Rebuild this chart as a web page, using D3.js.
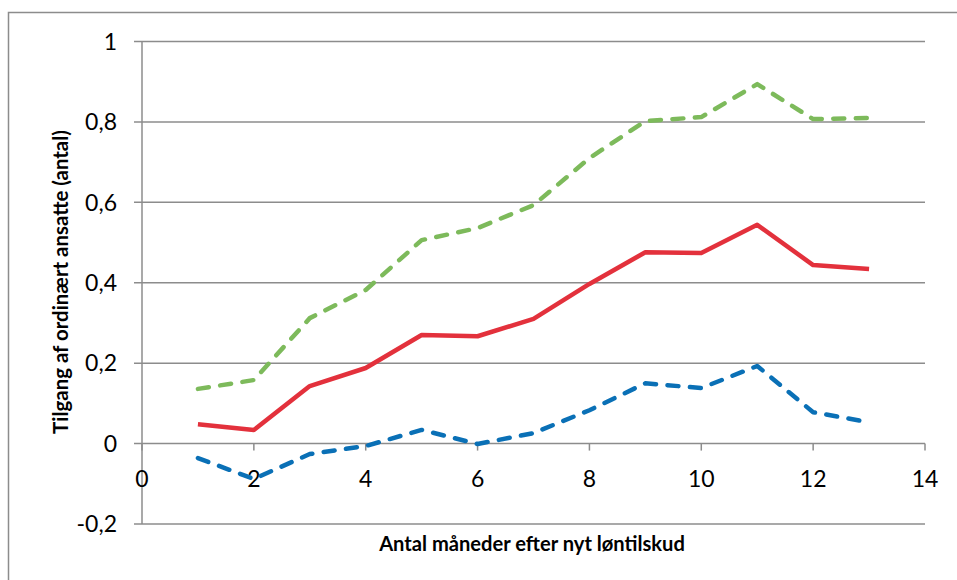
<!DOCTYPE html>
<html>
<head>
<meta charset="utf-8">
<script src="https://cdn.jsdelivr.net/npm/d3@7/dist/d3.min.js"></script>
<style>
  html, body { margin: 0; padding: 0; background: #fff; }
  svg { display: block; }
</style>
</head>
<body>
<svg id="chart" width="957" height="580"></svg>
<script>
// ---- data ----
const months = [1, 2, 3, 4, 5, 6, 7, 8, 9, 10, 11, 12, 13];
const estimate = [0.048, 0.034, 0.143, 0.188, 0.270, 0.267, 0.310, 0.397, 0.476, 0.474, 0.544, 0.444, 0.434];
const upper = [0.136, 0.158, 0.312, 0.382, 0.506, 0.536, 0.593, 0.710, 0.802, 0.812, 0.894, 0.807, 0.810];
const lower = [-0.036, -0.088, -0.026, -0.006, 0.034, -0.001, 0.026, 0.083, 0.150, 0.138, 0.193, 0.078, 0.053];
const xTicks = [0, 2, 4, 6, 8, 10, 12, 14];
const yTicks = [-0.2, 0, 0.2, 0.4, 0.6, 0.8, 1];
const yTickLabels = ["-0,2", "0", "0,2", "0,4", "0,6", "0,8", "1"];
const xTitle = "Antal måneder efter nyt løntilskud";
const yTitle = "Tilgang af ordinært ansatte (antal)";

// ---- layout ----
const svg = d3.select("#chart");
const font = "Lato, 'Open Sans', sans-serif";
const grey = "#8c8c8c";

const x = d3.scaleLinear().domain([0, 14]).range([142, 925]);
const y = d3.scaleLinear().domain([-0.2, 1]).range([524, 41.5]);

// outer border (only top and left visible)
svg.append("rect")
  .attr("x", 8.5).attr("y", 12.5)
  .attr("width", 1000).attr("height", 1000)
  .attr("fill", "none").attr("stroke", grey).attr("stroke-width", 1.5);

// horizontal gridlines with y ticks
svg.append("g").selectAll("line").data(yTicks).join("line")
  .attr("x1", 134).attr("x2", x(14))
  .attr("y1", d => y(d)).attr("y2", d => y(d))
  .attr("stroke", grey).attr("stroke-width", 1.5);

// y axis line
svg.append("line")
  .attr("x1", x(0)).attr("x2", x(0))
  .attr("y1", y(1)).attr("y2", y(-0.2))
  .attr("stroke", grey).attr("stroke-width", 1.5);

// x ticks on zero line
svg.append("g").selectAll("line").data(xTicks).join("line")
  .attr("x1", d => x(d)).attr("x2", d => x(d))
  .attr("y1", y(0)).attr("y2", y(0) + 7)
  .attr("stroke", grey).attr("stroke-width", 1.5);

// y tick labels
svg.append("g").selectAll("text").data(yTicks).join("text")
  .attr("x", 117).attr("y", d => y(d))
  .attr("dy", "0.36em")
  .attr("text-anchor", "end")
  .style("font-family", font).style("font-size", "23px").attr("fill", "#000")
  .text((d, i) => yTickLabels[i]);

// x tick labels
svg.append("g").selectAll("text").data(xTicks).join("text")
  .attr("x", d => x(d)).attr("y", 487)
  .attr("text-anchor", "middle")
  .style("font-family", font).style("font-size", "23px").attr("fill", "#000")
  .text(d => d);

// series lines
const line = d3.line().x((d, i) => x(months[i])).y(d => y(d));
function drawSeries(vals, color, dashed) {
  const p = svg.append("path").datum(vals)
    .attr("d", line)
    .attr("fill", "none")
    .attr("stroke", color)
    .attr("stroke-width", 4.5)
    .attr("stroke-linejoin", "round")
    .attr("stroke-linecap", dashed ? "round" : "butt");
  if (dashed) p.attr("stroke-dasharray", "11,11.5");
}
drawSeries(upper, "#7dba5b", true);
drawSeries(estimate, "#e3313c", false);
drawSeries(lower, "#0a70b6", true);

// axis titles (fit to measured width)
function fitText(sel, target) {
  sel.style("font-size", "20px");
  const w = sel.node().getComputedTextLength();
  sel.style("font-size", (20 * target / w) + "px");
}
const xt = svg.append("text")
  .attr("x", 532).attr("y", 551)
  .attr("text-anchor", "middle")
  .style("font-family", font).style("font-weight", "bold").attr("fill", "#000")
  .text(xTitle);
fitText(xt, 306);

const yt = svg.append("text")
  .attr("transform", "translate(68,282) rotate(-90)")
  .attr("text-anchor", "middle")
  .style("font-family", font).style("font-weight", "bold").attr("fill", "#000")
  .text(yTitle);
fitText(yt, 304);
</script>
</body>
</html>
